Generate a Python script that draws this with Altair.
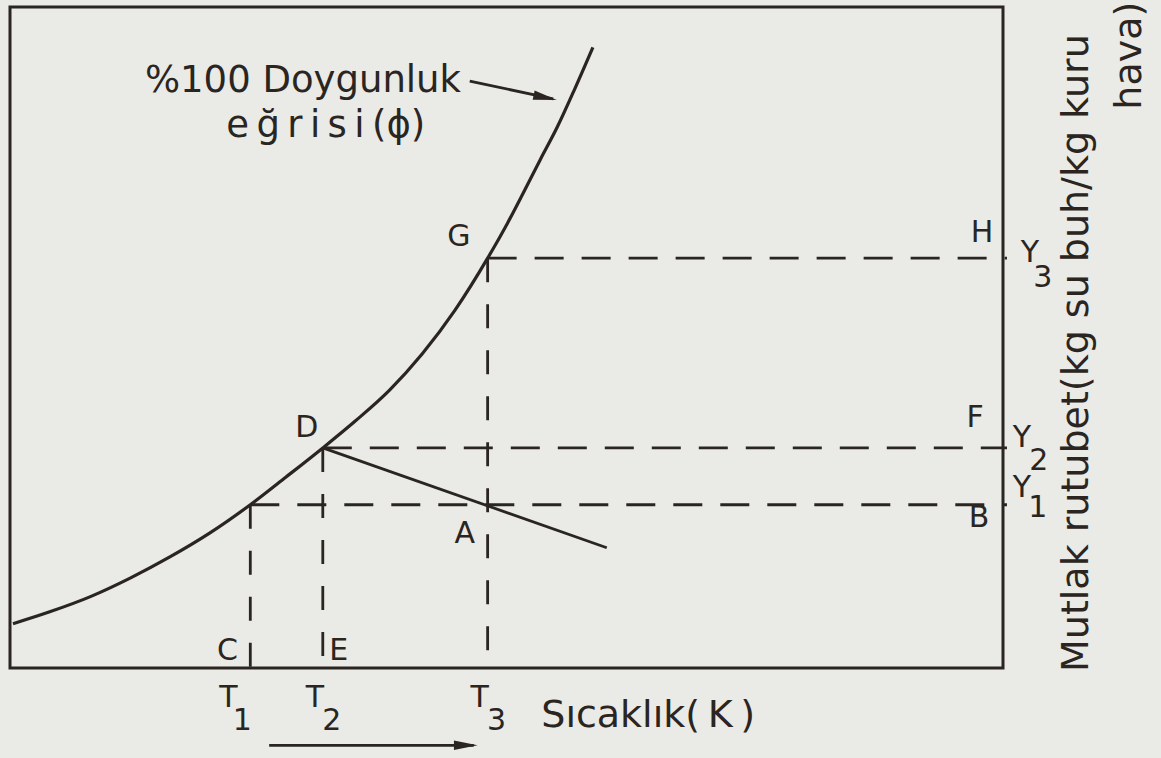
import altair as alt
import pandas as pd

INK = "#2a2521"
PAPER = "#eaeae6"
FONT = "DejaVu Sans"
THIN = "\u2009"

# Saturation (100 %) curve: dry-bulb temperature vs. absolute humidity (relative units)
curve_t = [0.3, 4.0, 8.1, 12.1, 16.1, 20.1, 24.2, 27.8, 31.5, 34.8, 38.2,
           41.5, 44.8, 48.1, 50.1, 51.7, 53.4, 55.1, 56.9, 58.7]
curve_w = [6.7, 8.5, 10.8, 13.6, 16.8, 20.4, 24.7, 28.9, 33.3, 37.4, 42.0,
           47.5, 54.1, 62.0, 67.3, 71.9, 76.9, 81.8, 87.7, 93.9]

# Characteristic temperatures and humidities
T1, T2, T3 = 24.2, 31.5, 48.1
Y1, Y2, Y3 = 24.7, 33.3, 62.0

# Process line D -> A, continued past A
proc_t = [T2, 60.1]
proc_w = [Y2, 18.2]

curve = pd.DataFrame({"t": curve_t, "w": curve_w})
process = pd.DataFrame({"t": proc_t, "w": proc_w})

# Dashed guides start at the curve and run to the right edge / down to the axis
h_guides = pd.DataFrame({
    "x": [T1, T2, T3],
    "x2": [100.4, 100.4, 100.4],
    "y": [Y1, Y2, Y3],
    "y2": [Y1, Y2, Y3],
})
v_guides = pd.DataFrame({
    "x": [T1, T2, T3],
    "x2": [T1, T2, T3],
    "y": [Y1, Y2, Y3],
    "y2": [0, 0, 0],
})

# Point labels
pt_text = ["C", "E", "A", "D", "G", "H", "F", "B"]
pt_x = [21.9, 33.1, 45.8, 29.9, 45.2, 97.9, 97.2, 97.6]
pt_y = [1.2, 1.2, 18.9, 35.0, 63.8, 64.5, 36.5, 21.4]

# Tick labels with subscripts
sym_text = ["T", "1", "T", "2", "T", "3", "Y", "1", "Y", "2", "Y", "3"]
sym_x = [22.0, 23.4, 30.7, 32.4, 47.3, 49.0, 101.9, 103.5, 101.9, 103.6, 102.7, 104.0]
sym_y = [-5.9, -9.4, -5.9, -9.4, -5.9, -9.4, 25.9, 22.9, 33.5, 30.0, 61.4, 57.7]

sx = alt.Scale(domain=[0, 100], nice=False, zero=False)
sy = alt.Scale(domain=[0, 100], nice=False, zero=False)


def X(f="x"):
    return alt.X(f"{f}:Q", scale=sx, axis=None)


def Y(f="y"):
    return alt.Y(f"{f}:Q", scale=sy, axis=None)


curve_layer = alt.Chart(curve).mark_line(
    color=INK, strokeWidth=3.2, interpolate="monotone"
).encode(x=X("t"), y=Y("w"), order="t:Q")

process_layer = alt.Chart(process).mark_line(color=INK, strokeWidth=2.8).encode(
    x=X("t"), y=Y("w")
)

h_layer = alt.Chart(h_guides).mark_rule(
    color=INK, strokeWidth=2.8, strokeDash=[29, 18]
).encode(x=X("x"), x2="x2:Q", y=Y("y"), y2="y2:Q")

v_layer = alt.Chart(v_guides).mark_rule(
    color=INK, strokeWidth=2.8, strokeDash=[24, 22]
).encode(x=X("x"), x2="x2:Q", y=Y("y"), y2="y2:Q")

pt_layer = alt.Chart(pd.DataFrame({"x": pt_x, "y": pt_y, "s": pt_text})).mark_text(
    font=FONT, fontSize=30, color=INK, align="center", baseline="alphabetic"
).encode(x=X(), y=Y(), text="s:N")

sym_layer = alt.Chart(pd.DataFrame({"x": sym_x, "y": sym_y, "s": sym_text})).mark_text(
    font=FONT, fontSize=30, color=INK, align="center", baseline="alphabetic"
).encode(x=X(), y=Y(), text="s:N")

# Curve name with pointer arrow
name_df = pd.DataFrame({
    "x": [29.5, 31.8],
    "y": [87.1, 80.3],
    "s": ["%100 Doygunluk", THIN.join("eğrisi") + THIN + "(ϕ)"],
})
name_layer = alt.Chart(name_df).mark_text(
    font=FONT, fontSize=37, color=INK, align="center", baseline="alphabetic"
).encode(x=X(), y=Y(), text="s:N")

arrow_lines = pd.DataFrame({
    "x": [46.3, 26.1],
    "x2": [54.7, 46.7],
    "y": [88.8, -11.7],
    "y2": [86.1, -11.7],
})
arrow_layer = alt.Chart(arrow_lines).mark_rule(color=INK, strokeWidth=2.8).encode(
    x=X("x"), x2="x2:Q", y=Y("y"), y2="y2:Q"
)
heads = pd.DataFrame({"x": [53.9, 45.9], "y": [86.3, -11.7], "a": [12, 0]})
head_layer = alt.Chart(heads).mark_point(
    shape="M-1,-0.4L1,0L-1,0.4Z", filled=True, color=INK, opacity=1, size=560
).encode(x=X(), y=Y(), angle=alt.Angle("a:Q", scale=None))

# Axis titles
xtitle = alt.Chart(pd.DataFrame({
    "x": [53.5], "y": [-8.9], "s": ["Sıcaklık(" + THIN + "K" + THIN + ")"]
})).mark_text(
    font=FONT, fontSize=38, color=INK, align="left", baseline="alphabetic"
).encode(x=X(), y=Y(), text="s:N")

ytitle1 = alt.Chart(pd.DataFrame({
    "x": [108.6], "y": [-0.6], "s": ["Mutlak rutubet(kg su buh/kg kuru"]
})).mark_text(
    font=FONT, fontSize=38, color=INK, align="left", baseline="alphabetic", angle=270
).encode(x=X(), y=Y(), text="s:N")

ytitle2 = alt.Chart(pd.DataFrame({"x": [113.9], "y": [100.8], "s": ["hava)"]})).mark_text(
    font=FONT, fontSize=38, color=INK, align="right", baseline="alphabetic", angle=270
).encode(x=X(), y=Y(), text="s:N")

chart = alt.layer(
    v_layer, h_layer, curve_layer, process_layer, pt_layer, sym_layer,
    name_layer, arrow_layer, head_layer, xtitle, ytitle1, ytitle2,
).properties(
    width=993,
    height=661,
    padding={"left": 10, "top": 7, "right": 158, "bottom": 90},
    autosize=alt.AutoSizeParams(type="none"),
    background=PAPER,
).configure_view(stroke=INK, strokeWidth=3)

chart.save("out.html", embed_options={"renderer": "svg", "actions": False})
